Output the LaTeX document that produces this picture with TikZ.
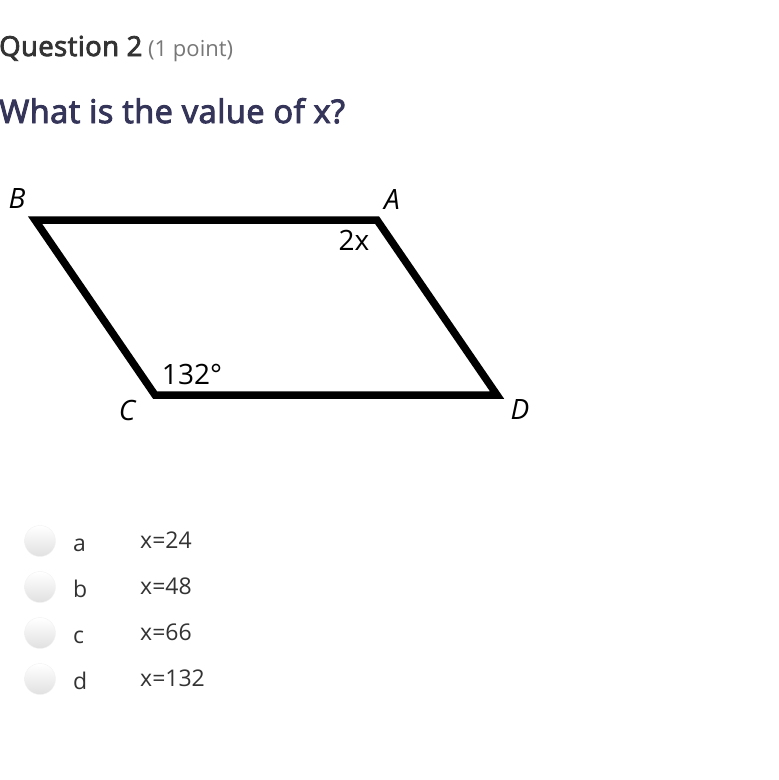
\documentclass[tikz,border=0pt]{standalone}
\usepackage{fontspec}
\setmainfont{Open Sans}
\newfontfamily\semibold{Open Sans}[FakeBold=3, LetterSpace=1.5]
\usetikzlibrary{positioning}

\definecolor{titlegray}{HTML}{333333}
\definecolor{pointgray}{HTML}{777777}
\definecolor{asknavy}{HTML}{35355A}
\definecolor{answergray}{HTML}{333333}

\tikzset{
  side/.style = {line width=7.5pt, line join=miter},
  vertex/.style = {font=\fontsize{28}{30}\selectfont\itshape, inner sep=0pt},
  angle label/.style = {font=\fontsize{28}{30}\selectfont, inner sep=0pt},
  radio/.style = {circle, minimum size=31pt, inner sep=0pt,
    top color=white, bottom color=black!12, draw=black!5},
  choice/.style = {font=\fontsize{23}{25}\selectfont, text=answergray, inner sep=0pt, anchor=base west}
}

\begin{document}
\begin{tikzpicture}[x=1pt, y=-1pt]
\useasboundingbox[fill=white] (0,0) rectangle (779,780);
% heading
\node[anchor=base west, inner sep=0pt, text=titlegray, font=\fontsize{27.5}{30}\selectfont\semibold] (qhead) at (-1,56) {Question 2};
\node[anchor=base west, inner sep=0pt, text=pointgray, font=\fontsize{22}{24}\selectfont] (qpts) at (148,56) {(1 point)};
\node[anchor=base west, inner sep=0pt, text=asknavy, font=\fontsize{32.5}{34}\selectfont\semibold] (ask) at (-1,123) {What is the value of x?};

% the parallelogram
\coordinate (B) at (35,220);
\coordinate (A) at (377,220);
\coordinate (D) at (497,395);
\coordinate (C) at (155,395);
\draw[side] (B) -- (A) -- (D) -- (C) -- cycle;
\node[vertex] (lB) at (17,199) {B};
\node[vertex] (lA) at (392,200) {A};
\node[vertex] (lC) at (127,410) {C};
\node[vertex] (lD) at (520,409) {D};
\node[angle label] (ang2x) at (354,240) {2x};
\node[angle label] (ang132) at (192,374) {132°};

% choices
\node[radio] (ra) at (40,541) {};
\node[radio] (rb) at (40,587) {};
\node[radio] (rc) at (40,633) {};
\node[radio] (rd) at (40,679) {};
\node[choice] (la) at (73,551) {a};
\node[choice] (lb) at (73,597) {b};
\node[choice] (lc) at (73,643) {c};
\node[choice] (ld) at (73,689) {d};
\node[choice] (va) at (140,548) {x=24};
\node[choice] (vb) at (140,594) {x=48};
\node[choice] (vc) at (140,640) {x=66};
\node[choice] (vd) at (140,686) {x=132};
\end{tikzpicture}
\end{document}
